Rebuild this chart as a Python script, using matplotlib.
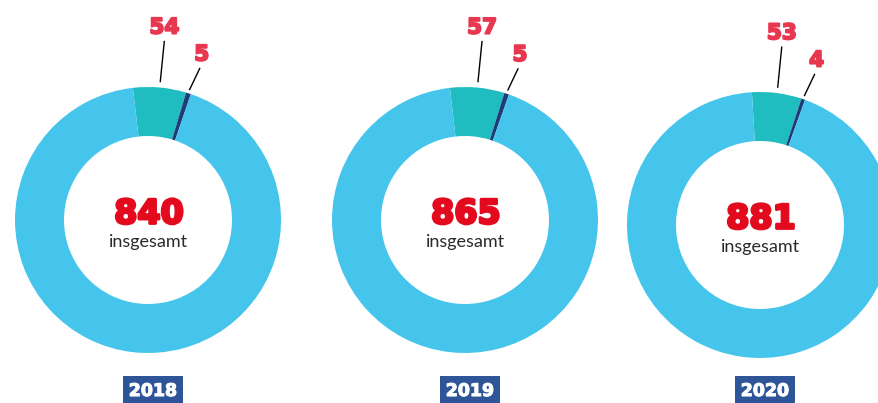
import matplotlib.pyplot as plt
import matplotlib.patheffects as pe
import numpy as np

# data
years = ["2018", "2019", "2020"]
totals = [840, 865, 881]
teal_vals = [54, 57, 53]
navy_vals = [5, 5, 4]
rest_vals = [t - a - b for t, a, b in zip(totals, teal_vals, navy_vals)]

# layout (pixels)
centers = [(148, 183), (465, 183), (760, 178)]
starts = [96.5, 96.5, 93.5]
R = 133
W = 49

c_light = "#45C5EC"
c_teal = "#1FBCC0"
c_navy = "#1F3C78"
c_red = "#E30A1E"
c_lab = "#E8384F"
c_box = "#2E5597"

fig = plt.figure(figsize=(8.79, 4.03), dpi=100)
ax = fig.add_axes([0, 0, 1, 1])

def heavy(c, w=1.6):
    return [pe.withStroke(linewidth=w, foreground=c)]

for i in range(3):
    cx, cy = centers[i]
    vals = [teal_vals[i], navy_vals[i], rest_vals[i]]
    ax.pie(vals, colors=[c_teal, c_navy, c_light], startangle=starts[i],
           counterclock=False, radius=R, center=(cx, cy),
           wedgeprops=dict(width=W, linewidth=0), frame=True)

    # leader lines and labels
    tot = totals[i]
    a_teal = np.deg2rad(starts[i] - 360 * teal_vals[i] / tot / 2)
    a_navy = np.deg2rad(starts[i] - 360 * (teal_vals[i] + navy_vals[i] / 2) / tot)
    x0, y0 = cx + (R + 6) * np.cos(a_teal), cy + (R + 6) * np.sin(a_teal)
    x1, y1 = x0 + 4, y0 + 40
    ax.plot([x0, x1], [y0, y1], color="black", lw=1)
    ax.text(x1, y1 + 4, str(teal_vals[i]), color=c_lab, fontsize=15.5,
            fontweight="bold", ha="center", va="bottom", path_effects=heavy(c_lab, 1.4))
    x0, y0 = cx + (R + 4) * np.cos(a_navy), cy + (R + 4) * np.sin(a_navy)
    x1, y1 = x0 + 10, y0 + 21
    ax.plot([x0, x1], [y0, y1], color="black", lw=1)
    ax.text(x1 + 2, y1 + 4, str(navy_vals[i]), color=c_lab, fontsize=15.5,
            fontweight="bold", ha="center", va="bottom", path_effects=heavy(c_lab, 1.4))

    # centre text
    ax.text(cx + 1, cy + 6, str(tot), color=c_red, fontsize=24,
            fontweight="bold", ha="center", va="center", path_effects=heavy(c_red, 2))
    ax.text(cx + 1, cy - 22, "insgesamt", color="#2a2a2a", fontsize=13,
            family="Lato", ha="center", va="center")

    # year box
    ax.text(cx + 5, 12, years[i], color="white", fontsize=12.5, fontweight="bold",
            ha="center", va="center", path_effects=heavy("white", 0.8),
            bbox=dict(boxstyle="square,pad=0.35", fc=c_box, ec="none"))

ax.set_xlim(0, 879)
ax.set_ylim(0, 403)
ax.set_aspect("equal")
ax.axis("off")

fig.savefig("out.png", dpi=100)
